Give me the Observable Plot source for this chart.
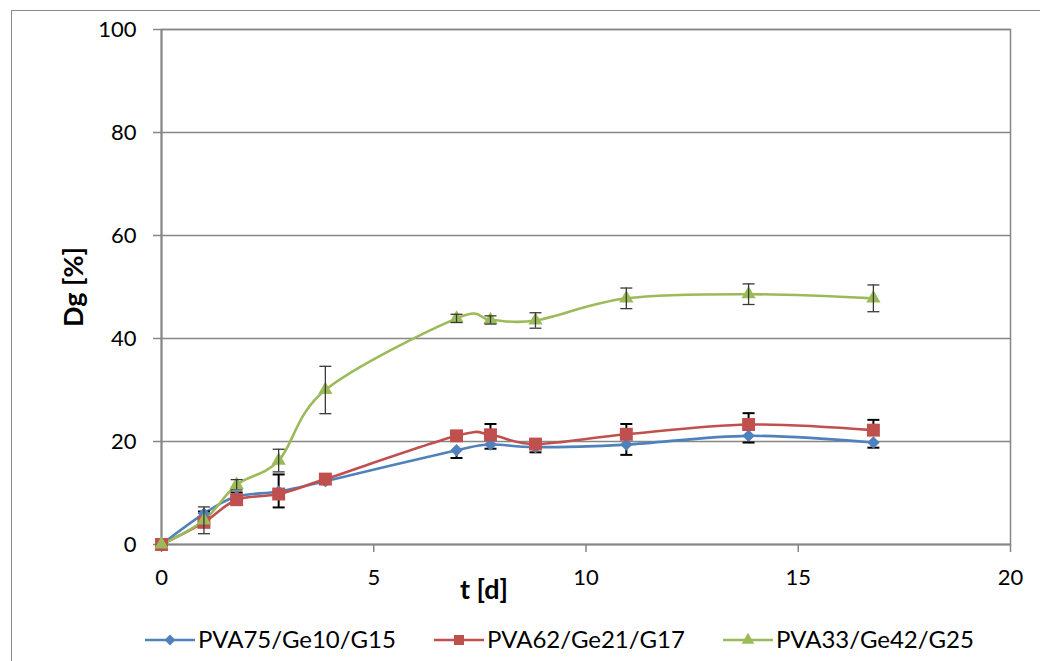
<!DOCTYPE html>
<html><head><meta charset="utf-8">
<script src="https://cdn.jsdelivr.net/npm/d3@7"></script>
<script src="https://cdn.jsdelivr.net/npm/@observablehq/plot@0.6"></script>
<style>
body{margin:0;background:#fff;font-family:Lato,"Open Sans",sans-serif;}
#wrap{position:relative;width:1040px;height:661px;overflow:hidden;background:#fff;}
#border{position:absolute;left:11px;top:10px;width:1100px;height:700px;border-left:1.5px solid #8c8c8c;border-top:1.5px solid #8c8c8c;}
#chart{position:absolute;left:0;top:0;}
.sw{position:absolute;top:628px;}
.lt{position:absolute;top:627px;font-size:24px;line-height:24px;color:#000;white-space:nowrap;}
</style>
</head><body>
<div id="wrap"><div id="border"></div><div id="chart"></div></div>
<script>
const days = [0, 1.0, 1.77, 2.76, 3.86, 6.95, 7.75, 8.81, 10.95, 13.83, 16.77];
const seriesNames = ["PVA75/Ge10/G15", "PVA62/Ge21/G17", "PVA33/Ge42/G25"];
const blue  = [0, 6.0, 9.3, 10.3, 12.3, 18.3, 19.4, 18.9, 19.4, 21.1, 19.8];
const red   = [0, 4.3, 8.7, 9.8, 12.7, 21.1, 21.3, 19.5, 21.4, 23.3, 22.2];
const green = [0, 4.7, 11.6, 16.3, 30.0, 43.9, 43.6, 43.5, 47.8, 48.6, 47.8];
const blueErrMinus = [0, 0.8, 0.5, 3.1, 0.5, 1.5, 0.8, 1.0, 2.0, 1.3, 1.0];
const redErrPlus   = [0, 2.1, 1.4, 3.8, 0.5, 0.5, 2.1, 0.4, 2.0, 2.2, 2.0];
const greenErr     = [0, 2.6, 1.0, 2.2, 4.6, 0.8, 0.8, 1.5, 2.0, 2.0, 2.6];
const xTicks = [0, 5, 10, 15, 20];
const yTicks = [0, 20, 40, 60, 80, 100];
const colors = ["#4F81BD", "#C0504D", "#9BBB59"];
const xLabel = "t [d]";
const yLabel = "Dg [%]";

const rows = [];
[blue, red, green].forEach((vals, s) => vals.forEach((v, i) => {
  let lo = v, hi = v;
  if (s === 0) lo = v - blueErrMinus[i];
  if (s === 1) hi = v + redErrPlus[i];
  if (s === 2) { lo = v - greenErr[i]; hi = v + greenErr[i]; }
  rows.push({series: seriesNames[s], s, day: days[i], dg: v, lo, hi});
}));
const errRows = rows.filter(d => d.hi > d.dg || d.lo < d.dg);
const caps = [];
errRows.forEach(d => {
  if (d.hi > d.dg) caps.push({...d, y: d.hi});
  if (d.lo < d.dg) caps.push({...d, y: d.lo});
});
const capSymbol = {draw(ctx) { ctx.moveTo(-6, 0); ctx.lineTo(6, 0); }};
const symbols = ["diamond2", "square", "triangle"];
const radii = [5.6, 7.3, 5.3];

const plot = Plot.plot({
  width: 1040, height: 612,
  marginTop: 29, marginBottom: 68, marginLeft: 161, marginRight: 30,
  x: {domain: [0, 20]},
  y: {domain: [0, 100]},
  color: {domain: seriesNames, range: colors},
  style: {fontFamily: "Lato, sans-serif", fontSize: "22px", color: "#000", background: "transparent", overflow: "visible"},
  marks: [
    Plot.gridY(yTicks.filter(t => t > 0), {stroke: "#868686", strokeOpacity: 1, strokeWidth: 1.5}),
    Plot.frame({stroke: "#868686", strokeWidth: 1.5}),
    Plot.ruleX([0], {stroke: "#868686", strokeWidth: 2}),
    Plot.ruleY([0], {stroke: "#868686", strokeWidth: 2}),
    Plot.axisX(xTicks, {tickSize: 8, tickPadding: 17, stroke: "#868686", strokeWidth: 1.5, fill: "#000", label: null, fontSize: 22}),
    Plot.axisY(yTicks, {tickSize: 8, tickPadding: 17, stroke: "#868686", strokeWidth: 1.5, fill: "#000", label: null, fontSize: 22}),
    Plot.text([yLabel], {text: d => d, frameAnchor: "left", textAnchor: "middle", rotate: -90, dx: -87, fontWeight: "bold", fontSize: 27, fill: "#000", lineAnchor: "middle"}),
    Plot.text([xLabel], {text: d => d, frameAnchor: "bottom", textAnchor: "middle", dx: -102, dy: 46, fontWeight: "bold", fontSize: 27, fill: "#000", lineAnchor: "middle"}),
    Plot.line(rows, {x: "day", y: "dg", z: "series", stroke: "series", strokeWidth: 2.6, curve: "cardinal"}),
    Plot.ruleX(errRows.filter(d => d.s < 2), {x: "day", y1: "lo", y2: "hi", stroke: "#000", strokeWidth: 2}),
    Plot.dot(caps.filter(d => d.s < 2), {x: "day", y: "y", symbol: capSymbol, stroke: "#000", strokeWidth: 2, fill: "none", r: 5}),
    ...[0, 1, 2].map(s => Plot.dot(rows.filter(d => d.s === s), {x: "day", y: "dg", symbol: symbols[s], r: radii[s], fill: colors[s], stroke: "none"})),
    Plot.ruleX(errRows.filter(d => d.s === 2), {x: "day", y1: "lo", y2: "hi", stroke: "#3a3a3a", strokeWidth: 1.3}),
    Plot.dot(caps.filter(d => d.s === 2), {x: "day", y: "y", symbol: capSymbol, stroke: "#3a3a3a", strokeWidth: 1.3, fill: "none", r: 5})
  ]
});
document.getElementById("chart").appendChild(plot);

// legend
const legX = [145, 434, 723];
const wrap = document.getElementById("wrap");
seriesNames.forEach((name, s) => {
  const sw = d3.create("svg").attr("class", "sw").attr("width", 52).attr("height", 24)
    .style("left", legX[s] + "px");
  sw.append("line").attr("x1", 0).attr("x2", 50).attr("y1", 12).attr("y2", 12)
    .attr("stroke", colors[s]).attr("stroke-width", 2.6);
  const sym = [d3.symbolDiamond2, d3.symbolSquare, d3.symbolTriangle][s];
  const size = [75, 100, 70][s];
  sw.append("path").attr("d", d3.symbol(sym, size)()).attr("transform", "translate(25,12)").attr("fill", colors[s]);
  wrap.appendChild(sw.node());
  const t = document.createElement("div");
  t.className = "lt";
  t.style.left = (legX[s] + 53) + "px";
  t.textContent = name;
  wrap.appendChild(t);
});
</script>
</body></html>
